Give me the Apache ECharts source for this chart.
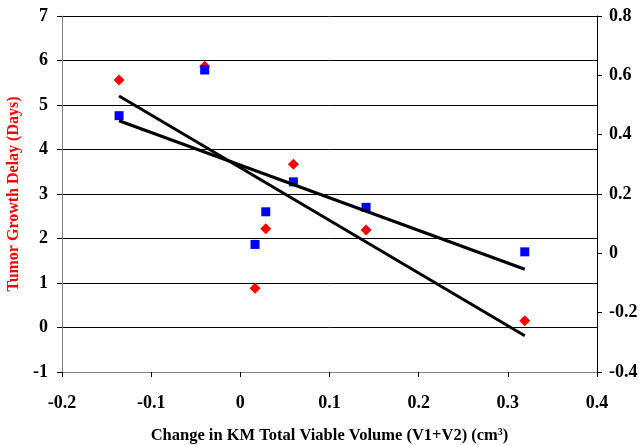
<!DOCTYPE html>
<html>
<head>
<meta charset="utf-8">
<script src="https://cdn.jsdelivr.net/npm/echarts@6/dist/echarts.min.js"></script>
<style>
  html, body { margin: 0; padding: 0; background: #fff; }
  #main { width: 644px; height: 445px; }
</style>
</head>
<body>
<div id="main"></div>
<script>
// values
var volumeChange = [-0.136, -0.040, 0.0165, 0.0285, 0.0595, 0.141, 0.319];
var growthDelay  = [5.56, 5.87, 0.88, 2.22, 3.67, 2.19, 0.15];   // left axis, red
var rightValues  = [0.464, 0.618, 0.030, 0.140, 0.241, 0.155, 0.005]; // right axis, blue

var xTicks = [-0.2, -0.1, 0, 0.1, 0.2, 0.3, 0.4];
var leftTicks = [-1, 0, 1, 2, 3, 4, 5, 6, 7];
var rightTicks = [-0.4, -0.2, 0, 0.2, 0.4, 0.6, 0.8];

// least squares trend line, drawn across the data's x range
function trend(xs, ys) {
  var n = xs.length, mx = 0, my = 0;
  for (var i = 0; i < n; i++) { mx += xs[i]; my += ys[i]; }
  mx /= n; my /= n;
  var sxy = 0, sxx = 0;
  for (var j = 0; j < n; j++) {
    sxy += (xs[j] - mx) * (ys[j] - my);
    sxx += (xs[j] - mx) * (xs[j] - mx);
  }
  var b = sxy / sxx, a = my - b * mx;
  var x0 = Math.min.apply(null, xs), x1 = Math.max.apply(null, xs);
  return [[x0, a + b * x0], [x1, a + b * x1]];
}

function pairs(xs, ys) {
  return xs.map(function (x, i) { return [x, ys[i]]; });
}

var labelFont = { fontFamily: 'Liberation Serif', fontWeight: 'bold', fontSize: 18, color: '#000' };

var chart = echarts.init(document.getElementById('main'));
chart.setOption({
  animation: false,
  backgroundColor: '#fff',
  grid: { left: 62, right: 47, top: 16, bottom: 73, containLabel: false, outerBoundsMode: 'none' },
  xAxis: {
    type: 'value', min: -0.2, max: 0.4, interval: 0.1,
    name: 'Change in KM Total Viable Volume (V1+V2) (cm{sup|3})',
    nameLocation: 'middle', nameGap: 55,
    nameTextStyle: {
      fontFamily: 'Liberation Serif', fontWeight: 'bold', fontSize: 16.5, color: '#000',
      rich: { sup: { fontFamily: 'Liberation Serif', fontWeight: 'bold', fontSize: 10, color: '#000', verticalAlign: 'top', padding: [0, 0, 8, 0] } }
    },
    axisLine: { onZero: false, lineStyle: { color: '#808080', width: 1 } },
    axisTick: { length: 5, lineStyle: { color: '#000' } },
    splitLine: { show: false },
    axisLabel: Object.assign({ margin: 22, formatter: function (v) { return +v.toFixed(1) + ''; } }, labelFont)
  },
  yAxis: [{
    type: 'value', min: -1, max: 7, interval: 1,
    name: 'Tumor Growth Delay (Days)',
    nameLocation: 'middle', nameGap: 32, nameRotate: 90,
    nameTextStyle: { fontFamily: 'Liberation Serif', fontWeight: 'bold', fontSize: 16, color: '#ff0000' },
    axisLine: { show: true, onZero: false, lineStyle: { color: '#808080', width: 1 } },
    axisTick: { show: true, length: 5, lineStyle: { color: '#000' } },
    splitLine: { show: true, lineStyle: { color: '#000', width: 1 } },
    axisLabel: Object.assign({ margin: 14 }, labelFont)
  }, {
    type: 'value', min: -0.4, max: 0.8, interval: 0.2, position: 'right',
    axisLine: { show: true, onZero: false, lineStyle: { color: '#000', width: 1 } },
    axisTick: { show: true, length: 5, lineStyle: { color: '#000' } },
    splitLine: { show: false },
    axisLabel: Object.assign({ margin: 12, formatter: function (v) { return +v.toFixed(1) + ''; } }, labelFont)
  }],
  series: [{
    type: 'scatter', yAxisIndex: 0, symbol: 'diamond', symbolSize: 11,
    itemStyle: { color: '#ff0000', opacity: 1 },
    data: pairs(volumeChange, growthDelay)
  }, {
    type: 'scatter', yAxisIndex: 1, symbol: 'rect', symbolSize: 9,
    itemStyle: { color: '#0000ff', opacity: 1 },
    data: pairs(volumeChange, rightValues)
  }, {
    type: 'line', yAxisIndex: 0, symbol: 'none',
    lineStyle: { color: '#000', width: 3 },
    data: trend(volumeChange, growthDelay), z: 3
  }, {
    type: 'line', yAxisIndex: 1, symbol: 'none',
    lineStyle: { color: '#000', width: 3 },
    data: trend(volumeChange, rightValues), z: 3
  }]
});
</script>
</body>
</html>
